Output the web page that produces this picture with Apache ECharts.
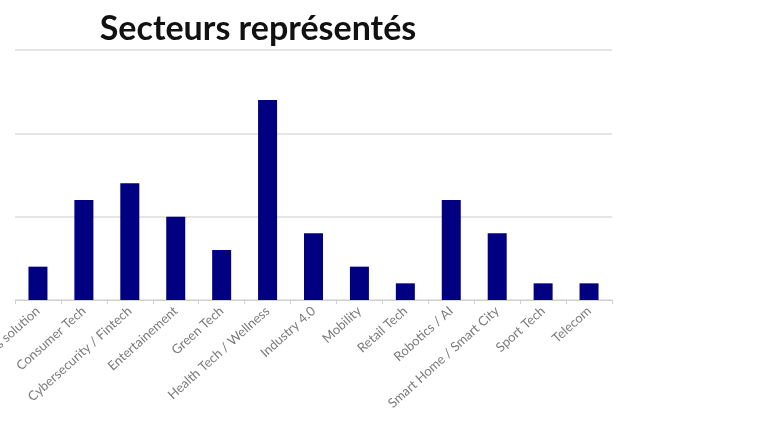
<!DOCTYPE html>
<html><head><meta charset="utf-8">
<script src="https://cdn.jsdelivr.net/npm/echarts@6/dist/echarts.min.js"></script>
<style>html,body{margin:0;padding:0;background:#fff}#c{width:774px;height:435px}</style>
</head><body><div id="c"></div>
<script>
const categories = ["Business solution","Consumer Tech","Cybersecurity / Fintech","Entertainement","Green Tech","Health Tech / Wellness","Industry 4.0","Mobility","Retail Tech","Robotics / AI","Smart Home / Smart City","Sport Tech","Telecom"];
const values = [2,6,7,5,3,12,4,2,1,6,4,1,1];
const titleText = "Secteurs représentés";

const chart = echarts.init(document.getElementById('c'));
chart.setOption({
  animation:false,
  title:{text:titleText,left:253,top:7,textAlign:'center',
    textStyle:{fontFamily:'Lato',fontWeight:'bold',fontSize:34,color:'#111'}},
  grid:{left:15,right:162,top:50,bottom:135,containLabel:false,outerBoundsMode:'none'},
  xAxis:{type:'category',data:categories,
    axisLine:{lineStyle:{color:'#d0d0d0'}},
    axisTick:{show:true,lineStyle:{color:'#d0d0d0'},length:4},
    axisLabel:{rotate:42,interval:0,color:'#7a7a7a',fontFamily:'Lato',fontSize:13,margin:9}},
  yAxis:{type:'value',min:0,max:15,interval:5,
    axisLabel:{show:false},axisLine:{show:false},axisTick:{show:false},
    splitLine:{lineStyle:{color:'#dcdcdc',width:1.5}}},
  series:[{type:'bar',data:values,barWidth:19,itemStyle:{color:'#000080'}}]
});
</script></body></html>
